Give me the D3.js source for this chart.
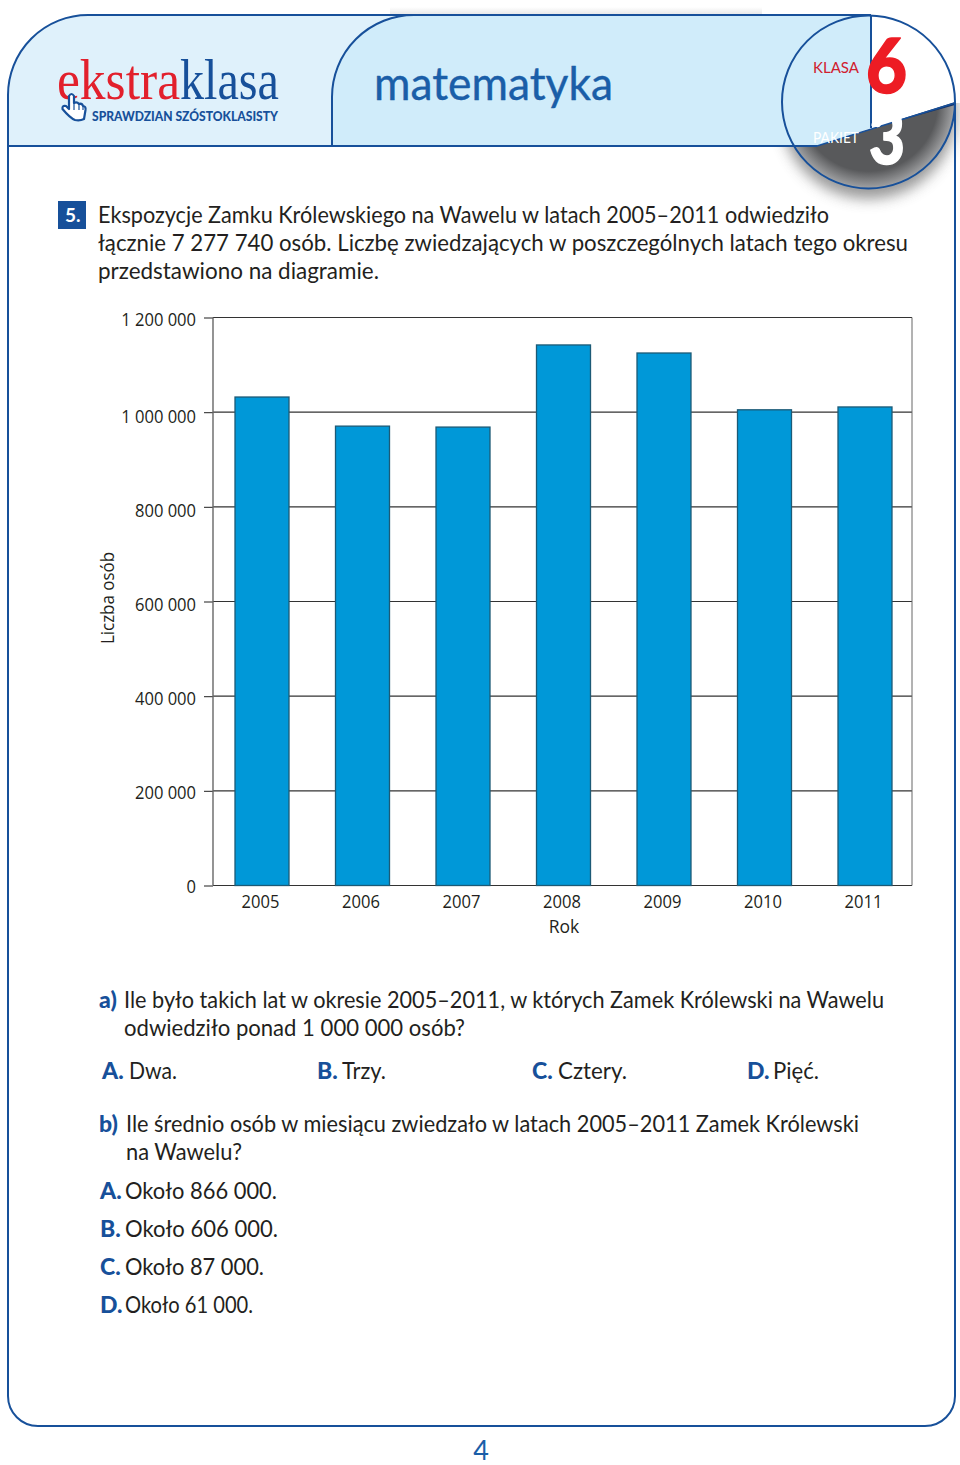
<!DOCTYPE html>
<html><head><meta charset="utf-8">
<script src="https://cdn.jsdelivr.net/npm/d3@7"></script>
<style>html,body{margin:0;padding:0;background:#fff}svg{display:block}</style>
</head><body><svg id="c" width="960" height="1465"></svg>
<script>
const years = ["2005","2006","2007","2008","2009","2010","2011"];
const visitors = [1032000,970500,968500,1142000,1125000,1005000,1011000];
const yTicks = [0,200000,400000,600000,800000,1000000,1200000];
const yTickLabels = ["0","200 000","400 000","600 000","800 000","1 000 000","1 200 000"];
const yTitle = "Liczba osób", xTitle = "Rok";

const BLUE="#17509a", BODY="#231f20", F="Lato, 'Open Sans', sans-serif", CF="'Open Sans', 'Noto Sans', sans-serif";
const svg=d3.select("#c");
const defs=svg.append("defs");
defs.append("filter").attr("id","blur").attr("x","-30%").attr("y","-30%").attr("width","160%").attr("height","160%")
  .append("feGaussianBlur").attr("stdDeviation",7);
defs.append("clipPath").attr("id","circ").append("circle").attr("cx",868.5).attr("cy",102).attr("r",86.5);
defs.append("clipPath").attr("id","below").append("path").attr("d","M700 146L817 146L955 103H960V300H700Z");
const rg=defs.append("radialGradient").attr("id","gray").attr("gradientUnits","userSpaceOnUse").attr("cx",868.5).attr("cy",102).attr("r",86.5);
rg.append("stop").attr("offset","0.8").attr("stop-color","#58595b");
rg.append("stop").attr("offset","1").attr("stop-color","#a2a3a5");
const lg=defs.append("linearGradient").attr("id","top").attr("x1",0).attr("x2",0).attr("y1",0).attr("y2",1);
lg.append("stop").attr("offset",0).attr("stop-color","#fff");
lg.append("stop").attr("offset",1).attr("stop-color","#e6e6e6");

function t(s,x,y,o={}){
  const e=svg.append("text").attr("x",x).attr("y",y).text(s)
    .attr("font-family",o.f||F).attr("font-size",o.s||23.5).attr("fill",o.c||BODY)
    .attr("font-weight",o.w||400).attr("text-anchor",o.a||"start");
  if(o.l) e.attr("textLength",o.l).attr("lengthAdjust","spacingAndGlyphs");
  if(o.sw) e.attr("stroke",o.c||BODY).attr("stroke-width",o.sw).attr("stroke-linejoin","round");
  return e;
}
function squeeze(sel,k){
  sel.each(function(){
    const w=this.getComputedTextLength();
    d3.select(this).attr("textLength",w*k).attr("lengthAdjust","spacingAndGlyphs");
  });
}

// page furniture
svg.append("rect").attr("x",390).attr("y",7).attr("width",372).attr("height",8).attr("fill","url(#top)");
svg.append("g").attr("clip-path","url(#below)")
  .append("circle").attr("cx",868.5).attr("cy",111).attr("r",88).attr("fill","#555").attr("opacity",.6).attr("filter","url(#blur)");
svg.append("path").attr("d","M8 146V95A80 80 0 0 1 88 15H420V146Z").attr("fill","#dff1fb");
svg.append("path").attr("d","M332 146V97A82 82 0 0 1 414 15H871V128L817 146Z").attr("fill","#d0ecfa");
svg.append("path").attr("d","M817 146L955 103V200H700V146Z").attr("fill","url(#gray)").attr("clip-path","url(#circ)");
svg.append("path").attr("d","M895 121L955 102V105L905 119Z").attr("fill","#12336b").attr("clip-path","url(#circ)");
svg.append("path").attr("d","M817 146L955 103").attr("stroke",BLUE).attr("stroke-width",1.5).attr("clip-path","url(#circ)");
svg.append("path").attr("d","M8 146H817M332 146V97A82 82 0 0 1 414 15M871 15V128")
  .attr("fill","none").attr("stroke",BLUE).attr("stroke-width",2);
svg.append("path").attr("d","M871 15H88A80 80 0 0 0 8 95V1396A30 30 0 0 0 38 1426H925A30 30 0 0 0 955 1396V103")
  .attr("fill","none").attr("stroke",BLUE).attr("stroke-width",2);
svg.append("circle").attr("cx",868.5).attr("cy",102).attr("r",86.5).attr("fill","none").attr("stroke",BLUE).attr("stroke-width",2);

// logo
t("ekstra",57,98.5,{f:"'Liberation Serif',serif",s:56,c:"#e2202c",l:123});
t("klasa",180,98.5,{f:"'Liberation Serif',serif",s:56,c:BLUE,l:99});
t("SPRAWDZIAN SZÓSTOKLASISTY",92,120.5,{s:12.5,w:900,c:BLUE,l:186});
svg.append("path").attr("d","M69 96Q71.5 92 74 96V103Q77 101.5 79 104Q82 103 83 106Q86 106 85.5 110L84 119Q80 121 75 120Q70 118 62.5 109Q62 105 66 106L69 109Z")
  .attr("fill","#fff").attr("stroke",BLUE).attr("stroke-width",2.2).attr("stroke-linejoin","round");
svg.append("path").attr("d","M74 103V110M79 104V110M83 106V110").attr("stroke",BLUE).attr("stroke-width",1.2);
t("matematyka",374,100,{s:46,c:"#1a5ea8",l:239,sw:.4});
t("KLASA",813,73,{s:16,c:"#d0202e",l:46});
t("PAKIET",813,143,{s:16,c:"#fff",l:46});
t("6",866,92.5,{s:76,w:900,c:"#ed1c24",l:41,sw:1.5});
t("3",869,164,{s:74,w:900,c:"#fff",l:36,sw:1.5});

// question text
svg.append("rect").attr("x",58).attr("y",201).attr("width",28).attr("height",28).attr("fill",BLUE);
t("5.",65,222,{s:19,w:700,c:"#fff"});
t("Ekspozycje Zamku Królewskiego na Wawelu w latach 2005–2011 odwiedziło",98,223,{l:731});
t("łącznie 7 277 740 osób. Liczbę zwiedzających w poszczególnych latach tego okresu",98,251,{l:810});
t("przedstawiono na diagramie.",98,279,{l:281});

// chart
const y=d3.scaleLinear().domain([0,1200000]).range([885.5,317.5]);
const x=d3.scaleBand().domain(years).range([214,913]).paddingInner(0.4627).paddingOuter(0.209);
const labelY=d3.scaleLinear().domain([0,1000000,1200000]).range([886.5,416.5,319.5]);
const g=svg.append("g");
const yAxis=d3.axisLeft(y).tickValues(yTicks).tickSize(9).tickPadding(0)
  .tickFormat((d,i)=>yTickLabels[i]);
const ya=g.append("g").attr("transform","translate(213,0)").call(yAxis);
ya.select(".domain").remove();
ya.selectAll("line").attr("stroke","#333").attr("stroke-width",1.1);
ya.selectAll("text").attr("font-family",CF).attr("font-size",17.5).attr("fill",BODY).attr("text-anchor","end")
  .attr("x",-17).attr("dy",null).attr("y",0)
  .attr("transform",d=>`translate(0,${labelY(d)-y(d)+6.2})`);
squeeze(ya.selectAll("text"),0.945);
// gridlines
g.append("g").selectAll("line").data(yTicks).join("line")
  .attr("x1",213).attr("x2",912).attr("y1",d=>y(d)).attr("y2",d=>y(d))
  .attr("stroke","#333").attr("stroke-width",1.1);
g.append("line").attr("x1",213).attr("x2",213).attr("y1",y(1200000)).attr("y2",y(0)).attr("stroke","#666").attr("stroke-width",1.4);
g.append("line").attr("x1",912).attr("x2",912).attr("y1",y(1200000)).attr("y2",y(0)).attr("stroke","#666").attr("stroke-width",1);
g.append("g").selectAll("rect").data(visitors).join("rect")
  .attr("x",(d,i)=>x(years[i])).attr("width",x.bandwidth())
  .attr("y",d=>y(d)).attr("height",d=>y(0)-y(d))
  .attr("fill","#0098d8").attr("stroke","#1c5a76").attr("stroke-width",1.3);
const xa=g.append("g").attr("transform",`translate(0,${y(0)})`).call(d3.axisBottom(x).tickSize(0).tickPadding(0));
xa.select(".domain").remove();
xa.selectAll("text").attr("font-family",CF).attr("font-size",17.5).attr("fill",BODY)
  .attr("y",0).attr("dy",null).attr("transform","translate(-1.5,22)");
squeeze(xa.selectAll("text"),0.945);
t(xTitle,564,932.5,{f:CF,s:17.5,a:"middle"});
t(yTitle,0,0,{f:CF,s:17.5,a:"middle",l:92}).attr("transform","translate(114,598) rotate(-90)");

// answers
const L={s:23,w:900,c:BLUE};
t("a)",99,1008,L);
t("Ile było takich lat w okresie 2005–2011, w których Zamek Królewski na Wawelu",124,1008,{l:760});
t("odwiedziło ponad 1 000 000 osób?",124,1036,{l:341});
[["A.","Dwa.",102,129,48],["B.","Trzy.",317,342,44],["C.","Cztery.",532,558,69],["D.","Pięć.",747,773,46]].forEach(r=>{
  t(r[0],r[2],1078.5,L); t(r[1],r[3],1078.5,{l:r[4]});
});
t("b)",99,1132,L);
t("Ile średnio osób w miesiącu zwiedzało w latach 2005–2011 Zamek Królewski",126,1132,{l:733});
t("na Wawelu?",126,1160,{l:116});
[["A.","Około 866 000.",1199,152],["B.","Około 606 000.",1237,153],["C.","Około 87 000.",1275,139],["D.","Około 61 000.",1313,128]].forEach(r=>{
  t(r[0],100,r[2],L); t(r[1],125,r[2],{l:r[3]});
});
t("4",481,1460,{s:27,c:"#1a5ea8",a:"middle"});
</script></body></html>
